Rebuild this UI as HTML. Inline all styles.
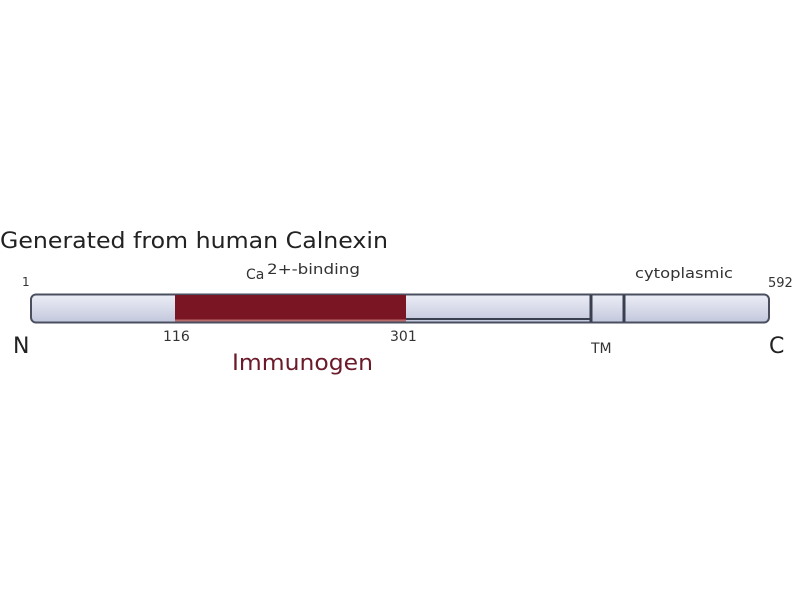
<!DOCTYPE html>
<html><head><style>
body{margin:0;background:#fff;}
svg{display:block;}
text{font-family:"DejaVu Sans","Liberation Sans",sans-serif;}
</style></head><body>
<svg width="800" height="600" viewBox="0 0 800 600">
<defs>
<linearGradient id="g" x1="0" y1="0" x2="0" y2="1">
<stop offset="0" stop-color="#eceef6"/><stop offset="1" stop-color="#c3c7dc"/>
</linearGradient>
</defs>
<rect width="800" height="600" fill="#fff"/>
<text x="0" y="248" font-size="22" fill="#222" textLength="388" lengthAdjust="spacingAndGlyphs">Generated from human Calnexin</text>
<text x="22" y="286" font-size="12" fill="#333">1</text>
<text x="246" y="279" font-size="14" fill="#333">Ca</text>
<text x="267" y="274" font-size="14" fill="#333" textLength="93" lengthAdjust="spacingAndGlyphs">2+-binding</text>
<text x="635" y="278" font-size="14" fill="#333" textLength="98" lengthAdjust="spacingAndGlyphs">cytoplasmic</text>
<text x="768" y="287" font-size="13" fill="#333">592</text>
<rect x="31" y="294.5" width="738" height="28" rx="5" fill="url(#g)" stroke="#4a4f60" stroke-width="2"/>
<rect x="175" y="295" width="231" height="25" fill="#7a1524"/>
<line x1="175" y1="320.5" x2="406" y2="320.5" stroke="#b86a6a" stroke-width="2"/>
<line x1="406" y1="319" x2="591" y2="319" stroke="#3a3f50" stroke-width="2"/>
<line x1="591" y1="295" x2="591" y2="322" stroke="#3a3f50" stroke-width="3"/>
<line x1="624" y1="295" x2="624" y2="322" stroke="#3a3f50" stroke-width="3"/>
<text x="13" y="353" font-size="22" fill="#222">N</text>
<text x="163" y="341" font-size="14" fill="#333">116</text>
<text x="390" y="341" font-size="14" fill="#333">301</text>
<text x="591" y="353" font-size="14" fill="#333">TM</text>
<text x="769" y="353" font-size="22" fill="#222">C</text>
<text x="232" y="370" font-size="22" fill="#6b1a2a" textLength="141" lengthAdjust="spacingAndGlyphs">Immunogen</text>
</svg>
</body></html>
